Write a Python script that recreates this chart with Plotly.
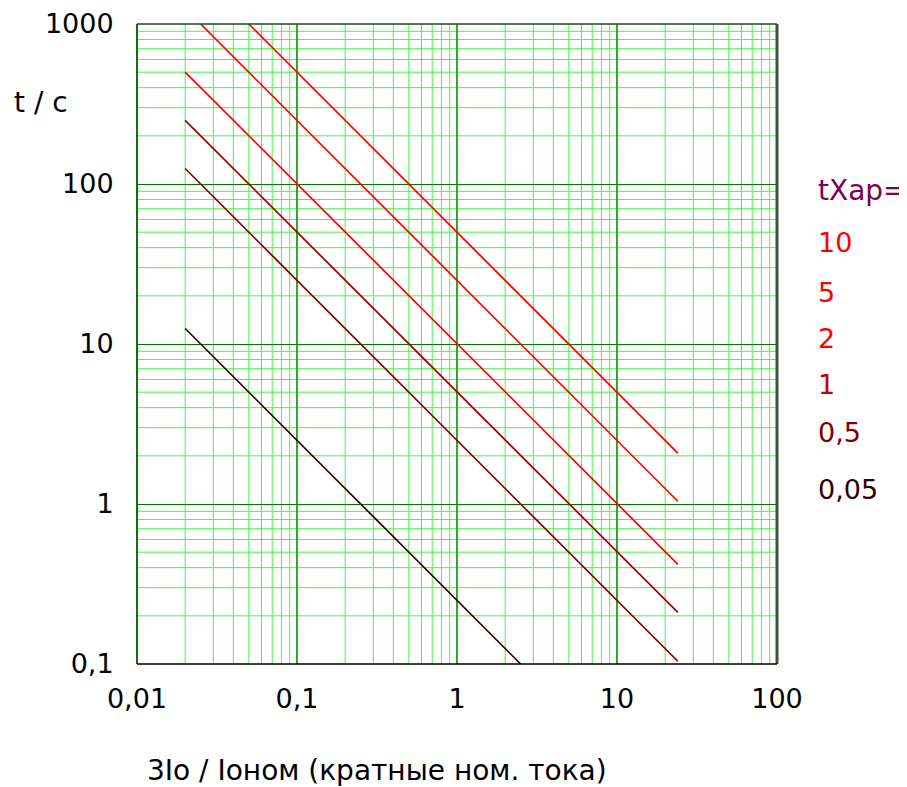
import plotly.graph_objects as go

# ---- data ----
txap_labels = ["10", "5", "2", "1", "0,5", "0,05"]
i_start = [0.05, 0.025, 0.02, 0.02, 0.02, 0.02]
t_start = [1000, 1000, 500, 250, 125, 12.5]
i_end = [24, 24, 24, 24, 24, 2.5]
t_end = [2.08, 1.04, 0.42, 0.21, 0.104, 0.1]
line_colors = ["#ff0000", "#ff0000", "#ff0000", "#a00000", "#800000", "#300000"]
label_colors = ["#ff0000", "#ff0000", "#ff0000", "#c00000", "#800000", "#300000"]

x_tickvals = [0.01, 0.1, 1, 10, 100]
x_ticktext = ["0,01", "0,1", "1", "10", "100"]
y_tickvals = [0.1, 1, 10, 100, 1000]
y_ticktext = ["0,1", "1", "10", "100", "1000"]

FONT = "DejaVu Sans"

fig = go.Figure()
for k in range(len(txap_labels)):
    fig.add_trace(go.Scatter(
        x=[i_start[k], i_end[k]], y=[t_start[k], t_end[k]],
        mode="lines", line=dict(color=line_colors[k], width=1.7),
        showlegend=False, hoverinfo="skip"))

shapes = []
minor_col = "rgb(70,245,70)"
for dec in [0.01, 0.1, 1, 10]:
    for m in range(2, 10):
        shapes.append(dict(type="line", xref="x", yref="paper", x0=dec * m, x1=dec * m,
                           y0=0, y1=1, line=dict(color=minor_col, width=1), layer="below"))
for dec in [0.1, 1, 10, 100]:
    for m in range(2, 10):
        shapes.append(dict(type="line", xref="paper", yref="y", x0=0, x1=1,
                           y0=dec * m, y1=dec * m, line=dict(color=minor_col, width=1), layer="below"))
# borders
shapes.append(dict(type="line", xref="paper", yref="paper", x0=0, x1=0, y0=0, y1=1,
                   line=dict(color="#107010", width=2)))
shapes.append(dict(type="line", xref="paper", yref="paper", x0=0, x1=1, y0=1, y1=1,
                   line=dict(color="#105010", width=1.5)))
shapes.append(dict(type="line", xref="paper", yref="paper", x0=1, x1=1, y0=0, y1=1,
                   line=dict(color="#3a553a", width=3)))
shapes.append(dict(type="line", xref="paper", yref="paper", x0=0, x1=1, y0=0, y1=0,
                   line=dict(color="#000000", width=1.5)))

annotations = [
    dict(text="t / c", xref="paper", yref="paper", x=-0.195, y=0.878, xanchor="left",
         yanchor="middle", showarrow=False, font=dict(family=FONT, size=28, color="#000000")),
    dict(text="3Io / Ioном (кратные ном. тока)", xref="paper", yref="paper", x=0.0125, y=-0.166,
         xanchor="left", yanchor="middle", showarrow=False,
         font=dict(family=FONT, size=28, color="#000000")),
    dict(text="tXap=", xref="paper", yref="paper", x=1.061, y=0.7406, xanchor="left",
         yanchor="middle", showarrow=False, font=dict(family=FONT, size=28, color="#800050")),
]
label_y = [0.659, 0.581, 0.509, 0.436, 0.361, 0.273]
for k in range(len(txap_labels)):
    annotations.append(dict(text=txap_labels[k], xref="paper", yref="paper", x=1.061, y=label_y[k],
                            xanchor="left", yanchor="middle", showarrow=False,
                            font=dict(family=FONT, size=27, color=label_colors[k])))

fig.update_layout(
    width=899, height=779,
    margin=dict(l=129, r=130, t=16, b=123, autoexpand=False),
    paper_bgcolor="white", plot_bgcolor="white",
    font=dict(family=FONT, size=27, color="#000000"),
    shapes=shapes, annotations=annotations,
    xaxis=dict(type="log", range=[-2, 2], tickvals=x_tickvals, ticktext=x_ticktext,
               showgrid=True, gridcolor="#30a830", gridwidth=2, zeroline=False,
               ticks="outside", ticklen=11, tickcolor="rgba(0,0,0,0)", showline=False,
               tickfont=dict(family=FONT, size=27, color="#000000")),
    yaxis=dict(type="log", range=[-1, 3], tickvals=y_tickvals, ticktext=y_ticktext,
               showgrid=True, gridcolor="#007a00", gridwidth=1, zeroline=False,
               ticks="outside", ticklen=17, tickcolor="rgba(0,0,0,0)", showline=False,
               tickfont=dict(family=FONT, size=27, color="#000000")),
)

fig.write_html("out.html")
